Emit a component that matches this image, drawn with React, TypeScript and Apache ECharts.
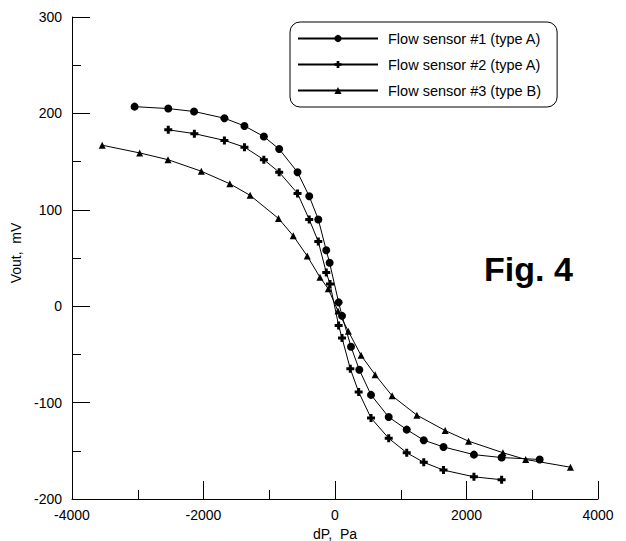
import React, { useEffect, useRef } from "react";
import * as echarts from "echarts";

const FONT = "'Liberation Sans', Arial, Helvetica, sans-serif";

const seriesNames = [
  "Flow sensor #1 (type A)",
  "Flow sensor #2 (type A)",
  "Flow sensor #3 (type B)",
];

const s1X = [-3048, -2536, -2144, -1682, -1377, -1082, -849, -570, -392, -254, -133, -82, 55, 107, 243, 370, 548, 817, 1091, 1350, 1650, 2113, 2534, 3113];
const s1Y = [207, 205, 202, 195, 187, 176, 163, 139, 114, 90, 58, 45, 4, -10, -42, -66, -92, -115, -128, -139, -146, -154, -157, -159];

const s2X = [-2536, -2139, -1682, -1377, -1082, -849, -570, -392, -254, -133, -76, 55, 107, 233, 360, 548, 817, 1091, 1350, 1650, 2113, 2534];
const s2Y = [183, 179, 172, 165, 152, 139, 117, 90, 67, 35, 23, -20, -33, -65, -89, -116, -137, -152, -162, -170, -177, -180];

const s3X = [-3541, -2971, -2540, -2033, -1600, -1291, -859, -635, -422, -229, -102, 45, 203, 396, 610, 869, 1245, 1676, 2031, 2554, 2900, 3581];
const s3Y = [167, 159, 152, 140, 127, 115, 91, 73, 52, 30, 18, -5, -26, -51, -71, -93, -113, -129, -140, -152, -159, -167];

const xTicks = [-4000, -2000, 0, 2000, 4000];
const yTicks = [-200, -100, 0, 100, 200, 300];

const plusSymbol = "path://M2.5,0H5.5V2.5H8V5.5H5.5V8H2.5V5.5H0V2.5H2.5Z";

function zip(xs: number[], ys: number[]) {
  return xs.map((x, i) => [x, ys[i]]);
}

export default function App() {
  const ref = useRef<HTMLDivElement>(null);
  useEffect(() => {
    if (!ref.current) return;
    const chart = echarts.init(ref.current, null, { renderer: "svg" });
    const common = {
      type: "line",
      color: "#000",
      lineStyle: { color: "#000", width: 1 },
      itemStyle: { color: "#000" },
      showAllSymbol: true,
    };
    chart.setOption({
      animation: false,
      backgroundColor: "#fff",
      textStyle: { fontFamily: FONT },
      grid: {
        left: 72,
        right: 28,
        top: 17,
        bottom: 42,
        containLabel: false,
        outerBoundsMode: "none",
      },
      legend: {
        orient: "vertical",
        left: 290,
        top: 22,
        itemWidth: 80,
        itemHeight: 9,
        itemGap: 11,
        padding: [9, 16, 9, 7],
        borderColor: "#000",
        borderWidth: 1,
        borderRadius: 10,
        backgroundColor: "#fff",
        textStyle: {
          fontFamily: FONT,
          fontSize: 14.5,
          color: "#000",
          lineHeight: 14,
          padding: [0, 0, 0, 5],
        },
        data: seriesNames,
      },
      xAxis: {
        type: "value",
        min: xTicks[0],
        max: xTicks[xTicks.length - 1],
        interval: 2000,
        name: "dP,  Pa",
        nameLocation: "middle",
        nameGap: 26,
        nameTextStyle: { fontFamily: FONT, fontSize: 14, color: "#000" },
        axisLine: { show: true, onZero: false, lineStyle: { color: "#000", width: 1 } },
        axisTick: { show: true, inside: true, length: 18, lineStyle: { color: "#000" } },
        minorTick: { show: true, splitNumber: 2, length: 9, lineStyle: { color: "#000" } },
        splitLine: { show: false },
        axisLabel: {
          fontFamily: FONT,
          fontSize: 14,
          color: "#000",
          margin: 9,
          formatter: (v: number) => String(v),
        },
      },
      yAxis: {
        type: "value",
        min: yTicks[0],
        max: yTicks[yTicks.length - 1],
        interval: 100,
        name: "Vout,  mV",
        nameLocation: "middle",
        nameGap: 46,
        nameTextStyle: { fontFamily: FONT, fontSize: 14, color: "#000", padding: [0, 0, 0, 10] },
        axisLine: { show: true, onZero: false, lineStyle: { color: "#000", width: 1 } },
        axisTick: { show: true, inside: true, length: 18, lineStyle: { color: "#000" } },
        minorTick: { show: true, splitNumber: 2, length: 9, lineStyle: { color: "#000" } },
        splitLine: { show: false },
        axisLabel: {
          fontFamily: FONT,
          fontSize: 14,
          color: "#000",
          margin: 10,
          formatter: (v: number) => String(v),
        },
      },
      graphic: [
        {
          type: "text",
          left: 484,
          top: 252,
          style: {
            text: "Fig. 4",
            font: "bold 34px 'Liberation Sans', Arial, sans-serif",
            fill: "#000",
          },
        },
      ],
      series: [
        { ...common, name: seriesNames[0], data: zip(s1X, s1Y), symbol: "circle", symbolSize: 8 },
        { ...common, name: seriesNames[1], data: zip(s2X, s2Y), symbol: plusSymbol, symbolSize: 8 },
        { ...common, name: seriesNames[2], data: zip(s3X, s3Y), symbol: "triangle", symbolSize: 7 },
      ],
    });
    return () => chart.dispose();
  }, []);
  return (
    <div
      ref={ref}
      style={{ position: "fixed", left: 0, top: 0, width: 626, height: 541, background: "#fff" }}
    />
  );
}
